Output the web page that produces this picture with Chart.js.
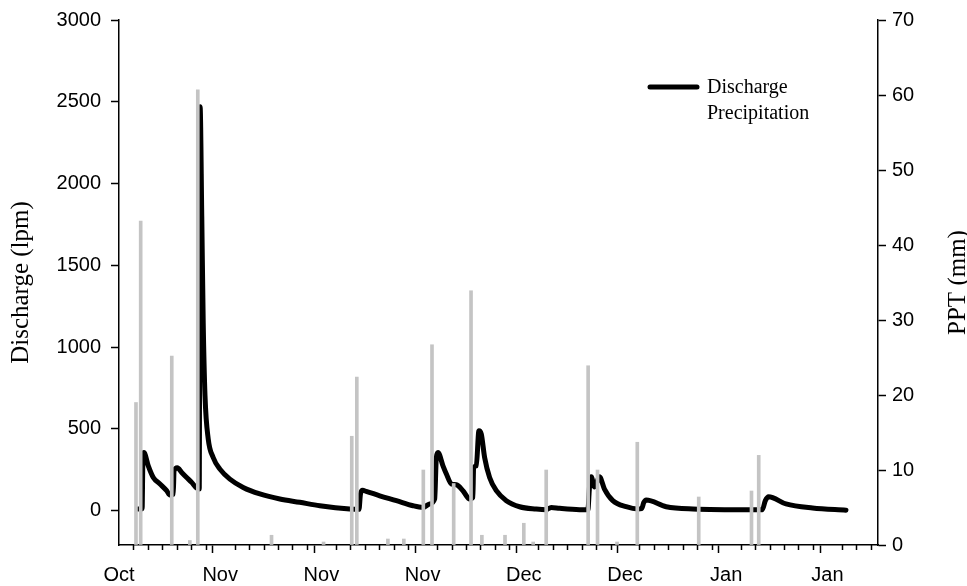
<!DOCTYPE html>
<html>
<head>
<meta charset="utf-8">
<script src="https://cdn.jsdelivr.net/npm/chart.js@4"></script>
<style>
    body { margin: 0; background: #fff; }
    #wrap { width: 967px; height: 586px; }
</style>
</head>
<body>
<div id="wrap"><canvas id="chart" width="967" height="586"></canvas></div>
<script>
// days counted from Oct 18, axis runs to Jan 31
const dischargeDay = [2.6, 3.2, 3.3, 3.45, 4.05, 4.74, 5.67, 6.59, 7.05, 7.5, 7.62, 8.06, 8.67, 9.36, 10.05, 10.74, 11.1,
    11.22, 11.45, 11.65, 11.9, 12.34, 13.03, 13.96, 15.34, 17.18, 19.49, 22.25, 25.01, 27.78, 31.92,
    33.2, 33.4, 33.7, 34.2, 36.07, 38.38, 40.67, 42.05, 42.98, 43.67, 43.9, 44.13, 44.82, 45.29, 45.98, 46.67,
    47.58, 48.51, 48.95, 49.06, 49.43, 49.79, 50.12, 50.58, 51.27, 52.2, 53.58, 55.42, 57.72, 59.1, 59.8, 60.95,
    63.71, 64.86, 65.1, 65.33, 65.78, 66.47, 67.16, 68.31, 70.16, 71.77, 72.3, 72.6, 72.93, 75.7, 79.4, 87.4,
    89.0, 89.4, 89.87, 92.27, 95.95, 100.57];
const dischargeLpm = [10, 12, 300, 355, 274, 203, 163, 122, 95, 100, 244, 262, 234, 203, 173, 138, 132,
    2470, 1800, 1150, 700, 440, 325, 254, 193, 142, 102, 71, 51, 30, 10,
    8, 100, 124, 118, 91, 61, 30, 20, 41, 71, 325, 355, 274, 224, 163, 158,
    122, 71, 80, 264, 274, 488, 468, 325, 203, 122, 61, 24, 10, 6, 20, 14,
    6, 6, 150, 207, 145, 207, 132, 61, 24, 10, 12, 50, 65, 24, 10, 5,
    6, 60, 85, 41, 16, 3];

const pptDay = [2.35, 3.0, 7.3, 9.8, 10.9, 21.1, 28.3, 32.2, 32.9, 37.2, 39.4, 42.1, 43.3, 46.3, 48.7,
    50.2, 53.4, 56.0, 57.3, 59.1, 64.9, 66.2, 68.9, 71.7, 80.2, 87.5, 88.5];
const pptMm = [19.0, 43.2, 25.2, 0.6, 60.7, 1.3, 0.4, 14.5, 22.4, 0.8, 0.8, 10.0, 26.7, 8.2, 33.9,
    1.3, 1.3, 2.9, 0.4, 10.0, 23.9, 10.0, 0.4, 13.7, 6.4, 7.2, 11.95];

const monthLabels = ["Oct", "Nov", "Nov", "Nov", "Dec", "Dec", "Jan", "Jan"];
const dischargeTicks = [0, 500, 1000, 1500, 2000, 2500, 3000];
const pptTicks = [0, 10, 20, 30, 40, 50, 60, 70];

const MAJOR = 14;
const MINOR = 2;
const X_MAX = 105;

const tickFont = { family: "Liberation Sans, Arial, sans-serif", size: 20 };
const yTickFont = { family: "Liberation Sans, Arial, sans-serif", size: 20, lineHeight: 1 };
const titleFont = { family: "Liberation Serif, Times New Roman, serif", size: 25 };
const legendFont = "20px Liberation Serif, Times New Roman, serif";

const dischargeData = dischargeDay.map((d, i) => ({ x: d, y: dischargeLpm[i] }));
const pptData = pptDay.map((d, i) => ({ x: d, y: pptMm[i] }));

const xTickValues = [];
for (let v = 0; v < X_MAX; v += MINOR) xTickValues.push(v);

const extrasPlugin = {
    id: "extras",
    afterDraw(chart) {
        const c = chart.ctx;
        const x = chart.scales.x;
        const area = chart.chartArea;

        // short minor tick marks
        c.save();
        c.strokeStyle = "#000";
        c.lineWidth = 1.5;
        xTickValues.forEach(v => {
            if (v % MAJOR === 0) return;
            const px = Math.round(x.getPixelForValue(v)) + 0.5;
            c.beginPath();
            c.moveTo(px, area.bottom);
            c.lineTo(px, area.bottom + 5);
            c.stroke();
        });

        // right axis title, reading upwards
        c.fillStyle = "#000";
        c.font = titleFont.size + "px " + titleFont.family;
        c.textAlign = "center";
        c.textBaseline = "middle";
        c.translate(958, (area.top + area.bottom) / 2);
        c.rotate(-Math.PI / 2);
        c.fillText("PPT (mm)", 0, 0);
        c.restore();

        // legend
        c.save();
        c.strokeStyle = "#000";
        c.lineWidth = 5;
        c.lineCap = "round";
        c.beginPath();
        c.moveTo(650, 87);
        c.lineTo(697, 87);
        c.stroke();
        c.fillStyle = "#000";
        c.font = legendFont;
        c.textAlign = "left";
        c.textBaseline = "middle";
        c.fillText("Discharge", 707, 88);
        c.fillText("Precipitation", 707, 114);
        c.restore();
    }
};

new Chart(document.getElementById("chart"), {
    type: "line",
    data: {
        datasets: [
            {
                type: "bar",
                label: "Precipitation",
                data: pptData,
                yAxisID: "y1",
                backgroundColor: "#c4c4c4",
                borderWidth: 0,
                barThickness: 3,
                order: 0
            },
            {
                type: "line",
                label: "Discharge",
                data: dischargeData,
                yAxisID: "y",
                borderColor: "#000",
                borderWidth: 5,
                borderJoinStyle: "round",
                borderCapStyle: "round",
                pointRadius: 0,
                cubicInterpolationMode: "monotone",
                fill: false,
                order: 1
            }
        ]
    },
    options: {
        responsive: false,
        animation: false,
        devicePixelRatio: 1,
        layout: { padding: { top: 18, right: 0, left: 0, bottom: 0 } },
        plugins: {
            legend: { display: false },
            tooltip: { enabled: false }
        },
        scales: {
            x: {
                type: "linear",
                min: 0,
                max: X_MAX,
                offset: false,
                afterBuildTicks: s => { s.ticks = xTickValues.map(v => ({ value: v })); },
                afterFit: s => { s.height = 41; },
                ticks: {
                    autoSkip: false,
                    maxRotation: 0,
                    padding: 10,
                    color: "#000",
                    font: tickFont,
                    callback: v => (v % MAJOR === 0 ? monthLabels[v / MAJOR] : "")
                },
                grid: {
                    drawOnChartArea: false,
                    tickLength: 8,
                    tickWidth: 1.5,
                    tickColor: ctx => (ctx.tick && ctx.tick.value % MAJOR === 0 ? "#000" : "rgba(0,0,0,0)")
                },
                border: { color: "#000", width: 1.5 }
            },
            y: {
                position: "left",
                min: -210,
                max: 3000,
                afterBuildTicks: s => { s.ticks = dischargeTicks.map(v => ({ value: v })); },
                afterFit: s => { s.width = 119; },
                ticks: { color: "#000", font: yTickFont, padding: 10, callback: v => String(v) },
                grid: { drawOnChartArea: false, tickLength: 8, tickWidth: 1.5, tickColor: "#000" },
                border: { color: "#000", width: 1.5 },
                title: {
                    display: true,
                    text: "Discharge (lpm)",
                    color: "#000",
                    font: titleFont,
                    padding: { top: 6, bottom: 0 }
                }
            },
            y1: {
                position: "right",
                min: 0,
                max: 70,
                afterBuildTicks: s => { s.ticks = pptTicks.map(v => ({ value: v })); },
                afterFit: s => { s.width = 89; },
                ticks: { color: "#000", font: yTickFont, padding: 6, callback: v => String(v) },
                grid: { drawOnChartArea: false, tickLength: 8, tickWidth: 1.5, tickColor: "#000" },
                border: { color: "#000", width: 1.5 }
            }
        }
    },
    plugins: [extrasPlugin]
});
</script>
</body>
</html>
